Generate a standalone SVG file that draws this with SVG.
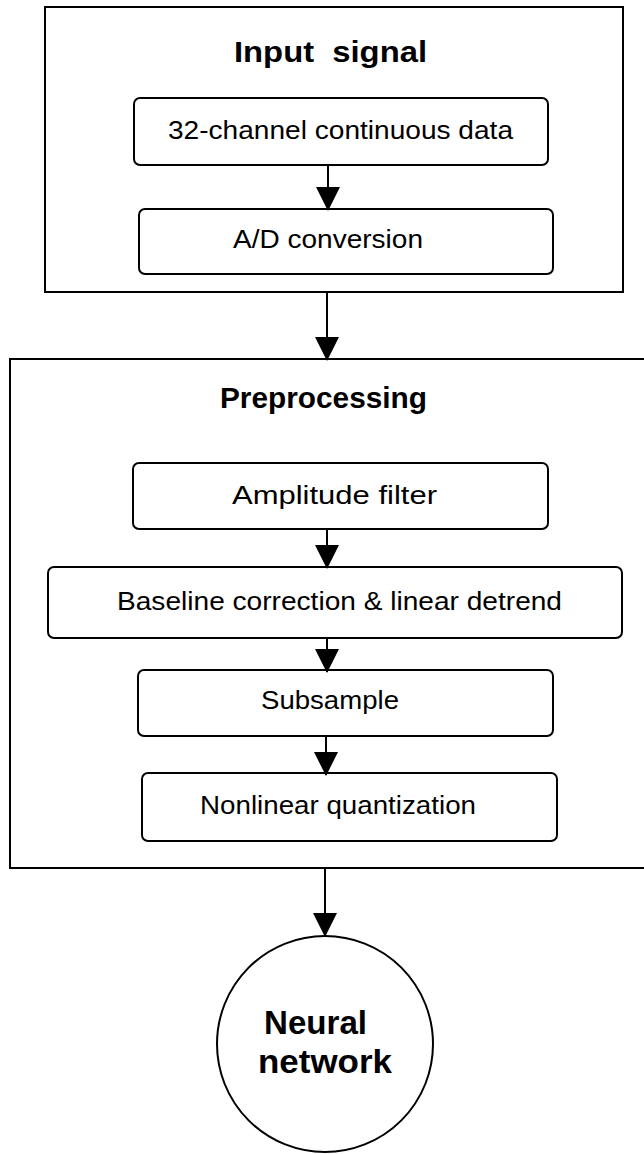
<svg xmlns="http://www.w3.org/2000/svg" width="644" height="1154" viewBox="0 0 644 1154">
<style>
.frame{fill:none;stroke:#000;stroke-width:2}
.box{fill:#fff;stroke:#000;stroke-width:2}
.conn{stroke:#000;stroke-width:2;fill:none}
.t{font-family:"Liberation Sans",Arial,sans-serif;font-size:26px;fill:#000}
.b{font-family:"Liberation Sans",Arial,sans-serif;font-size:30px;font-weight:bold;fill:#000}
.nn{font-family:"Liberation Sans",Arial,sans-serif;font-size:33px;font-weight:bold;fill:#000}
</style>
<defs>
<marker id="ah" markerUnits="userSpaceOnUse" markerWidth="24" markerHeight="24" viewBox="0 0 24 24" refX="23" refY="12" orient="auto">
<path d="M0,0 L24,12 L0,24 z" fill="#000"/>
</marker>
</defs>
<rect width="644" height="1154" fill="#fff"/>

<g id="input-signal">
<rect class="frame" x="45" y="7" width="578" height="285"/>
<text class="b" x="234" y="62" textLength="193" lengthAdjust="spacingAndGlyphs" xml:space="preserve">Input  signal</text>
</g>
<g id="continuous-data">
<rect class="box" x="134" y="98" width="414" height="67" rx="6"/>
<text class="t" x="168" y="139" textLength="345" lengthAdjust="spacingAndGlyphs">32-channel continuous data</text>
</g>
<g id="ad-conversion">
<rect class="box" x="139" y="209" width="414" height="65" rx="6"/>
<text class="t" x="233" y="248" textLength="190" lengthAdjust="spacingAndGlyphs">A/D conversion</text>
</g>

<g id="preprocessing">
<rect class="frame" x="10" y="359" width="650" height="509"/>
<text class="b" x="220" y="408" textLength="207" lengthAdjust="spacingAndGlyphs">Preprocessing</text>
</g>
<g id="amplitude-filter">
<rect class="box" x="133" y="463" width="415" height="66" rx="6"/>
<text class="t" x="232" y="504" textLength="205" lengthAdjust="spacingAndGlyphs">Amplitude filter</text>
</g>
<g id="baseline-correction">
<rect class="box" x="48" y="567" width="574" height="71" rx="6"/>
<text class="t" x="117" y="610" textLength="445" lengthAdjust="spacingAndGlyphs">Baseline correction &amp; linear detrend</text>
</g>
<g id="subsample">
<rect class="box" x="138" y="670" width="415" height="66" rx="6"/>
<text class="t" x="261" y="709" textLength="138" lengthAdjust="spacingAndGlyphs">Subsample</text>
</g>
<g id="nonlinear-quantization">
<rect class="box" x="142" y="773" width="415" height="68" rx="6"/>
<text class="t" x="200" y="814" textLength="276" lengthAdjust="spacingAndGlyphs">Nonlinear quantization</text>
</g>

<g id="neural-network">
<circle class="box" cx="325" cy="1044" r="108"/>
<text class="nn" x="264" y="1034" textLength="103" lengthAdjust="spacingAndGlyphs">Neural</text>
<text class="nn" x="258" y="1073" textLength="134" lengthAdjust="spacingAndGlyphs">network</text>
</g>

<g id="connectors">
<line class="conn" x1="328" y1="165" x2="328" y2="210" marker-end="url(#ah)"/>
<line class="conn" x1="327" y1="292" x2="327" y2="360" marker-end="url(#ah)"/>
<line class="conn" x1="327" y1="529" x2="327" y2="568" marker-end="url(#ah)"/>
<line class="conn" x1="327" y1="638" x2="327" y2="672" marker-end="url(#ah)"/>
<line class="conn" x1="326" y1="736" x2="326" y2="775" marker-end="url(#ah)"/>
<line class="conn" x1="325" y1="868" x2="325" y2="936" marker-end="url(#ah)"/>
</g>
</svg>
